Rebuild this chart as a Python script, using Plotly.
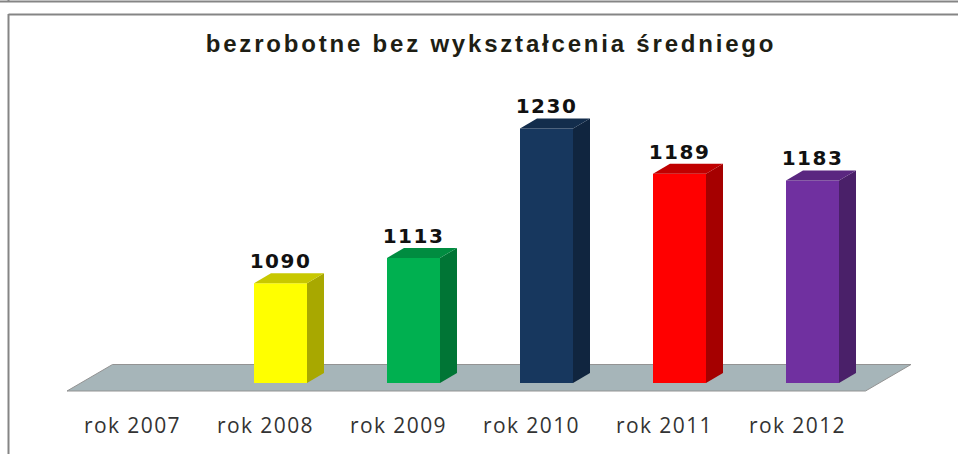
import plotly.graph_objects as go

TITLE = "bezrobotne bez wykształcenia średniego"
CATEGORIES = ["rok 2007", "rok 2008", "rok 2009", "rok 2010", "rok 2011", "rok 2012"]
VALUES = [None, 1090, 1113, 1230, 1189, 1183]
FRONT = ["#FFFF00", "#FFFF00", "#00B050", "#17375E", "#FF0000", "#7030A0"]
SIDE = ["#A8A800", "#A8A800", "#007535", "#10253F", "#A50000", "#4A2069"]
TOP = ["#C8C800", "#C8C800", "#008C40", "#132D4C", "#C00000", "#5A2780"]

W, H = 958, 454
PX_PER_CAT = 133.0
PX_PER_UNIT = 1.107
X0_PX = 132.5
BASE = 1000
BASE_PX = 383.0
PLOT_BOTTOM = 411.0

x_range = [-X0_PX / PX_PER_CAT, (W - X0_PX) / PX_PER_CAT]
y_range = [BASE - (PLOT_BOTTOM - BASE_PX) / PX_PER_UNIT, BASE + BASE_PX / PX_PER_UNIT]


def xd(px):
    return (px - X0_PX) / PX_PER_CAT


def yd(px):
    return BASE + (BASE_PX - px) / PX_PER_UNIT


BAR_W = 53 / PX_PER_CAT
SHIFT = 15 / PX_PER_CAT
DX = 17 / PX_PER_CAT
DY = 10 / PX_PER_UNIT

fig = go.Figure()
pos = [i + SHIFT for i in range(len(CATEGORIES))]
base_vals = [None if v is None else v - BASE for v in VALUES]
fig.add_trace(go.Bar(x=pos, y=base_vals, base=BASE, width=BAR_W, marker=dict(color=FRONT, line=dict(width=0)),
                     hoverinfo="skip", showlegend=False))

for p, v, s, t in zip(pos, VALUES, SIDE, TOP):
    if v is None:
        continue
    r = p + BAR_W / 2
    l = p - BAR_W / 2
    fig.add_trace(go.Scatter(x=[r, r + DX, r + DX, r, r], y=[BASE, BASE + DY, v + DY, v, BASE], mode="lines",
                             fill="toself", fillcolor=s, line=dict(width=0), hoverinfo="skip", showlegend=False))
    fig.add_trace(go.Scatter(x=[l, l + DX, r + DX, r, l], y=[v, v + DY, v + DY, v, v], mode="lines",
                             fill="toself", fillcolor=t, line=dict(width=0), hoverinfo="skip", showlegend=False))

fig.add_trace(go.Scatter(x=pos, y=[None if v is None else v + DY for v in VALUES],
                         text=[None if v is None else str(v) for v in VALUES],
                         mode="text", textposition="top center",
                         textfont=dict(family="DejaVu Sans", size=20, color="#111111", weight="bold"),
                         hoverinfo="skip", showlegend=False))

floor = dict(type="path", layer="below", xref="x", yref="y",
             path=f"M {xd(67)} {yd(391)} L {xd(112.5)} {yd(364.5)} L {xd(911)} {yd(364.5)} L {xd(865.5)} {yd(391)} Z",
             fillcolor="#A6B5B9", line=dict(color="#939393", width=1))
frame = [
    dict(type="line", xref="paper", yref="paper", x0=0, x1=1, y0=1 - 1.5 / PLOT_BOTTOM, y1=1 - 1.5 / PLOT_BOTTOM,
         line=dict(color="#858585", width=2)),
    dict(type="line", xref="paper", yref="paper", x0=8.5 / W, x1=1, y0=1 - 14.5 / PLOT_BOTTOM, y1=1 - 14.5 / PLOT_BOTTOM,
         line=dict(color="#858585", width=2)),
    dict(type="line", xref="paper", yref="paper", x0=8.5 / W, x1=8.5 / W, y0=-1, y1=1 - 14 / PLOT_BOTTOM,
         line=dict(color="#858585", width=2)),
    dict(type="line", xref="paper", yref="paper", x0=8.5 / W, x1=8.5 / W, y0=1, y1=1 - 1 / PLOT_BOTTOM,
         line=dict(color="#858585", width=2)),
]

fig.update_layout(
    width=W, height=H, margin=dict(l=0, r=0, t=0, b=H - PLOT_BOTTOM, pad=0),
    paper_bgcolor="white", plot_bgcolor="white", showlegend=False,
    title=dict(text=TITLE, x=491 / W, xanchor="center", y=1 - 44 / H, yanchor="middle",
               font=dict(family="Liberation Sans", size=24, color="#1E1E14", weight="bold")),
    xaxis=dict(range=x_range, tickmode="array", tickvals=list(range(len(CATEGORIES))), ticktext=CATEGORIES,
               showgrid=False, zeroline=False, showline=False, ticks="", ticklen=0,
               tickfont=dict(family="Open Sans", size=21, color="#333333"), automargin=False),
    yaxis=dict(range=y_range, visible=False, showgrid=False, zeroline=False, automargin=False),
    shapes=[floor] + frame,
)
SPACING_JS = """
document.body.style.margin='0';
document.querySelectorAll('.gtitle').forEach(function(t){t.style.letterSpacing='2.8px';});
document.querySelectorAll('.xtick text').forEach(function(t){t.style.letterSpacing='1.4px';});
document.querySelectorAll('.textpoint text').forEach(function(t){t.style.letterSpacing='1.5px';});
"""
fig.write_html("out.html", config={"displayModeBar": False, "staticPlot": True}, post_script=SPACING_JS)
